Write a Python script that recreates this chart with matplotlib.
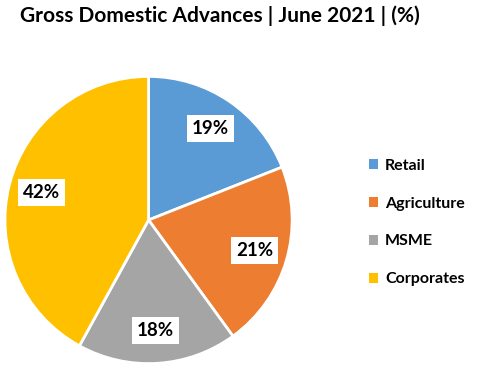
import matplotlib.pyplot as plt
from matplotlib.patches import Patch

categories = ["Retail", "Agriculture", "MSME", "Corporates"]
shares = [19, 21, 18, 42]
colors = ["#5B9BD5", "#ED7D31", "#A5A5A5", "#FFC000"]

plt.rcParams["font.family"] = ["Lato", "DejaVu Sans"]

fig = plt.figure(figsize=(4.78, 3.69), dpi=100)
fig.text(0.042, 0.957, "Gross Domestic Advances | June 2021 | (%)",
         fontsize=15, fontweight="bold", va="center", ha="left")

ax = fig.add_axes([0.0073, 0.0108, 0.607, 0.786])
wedges, texts, autotexts = ax.pie(
    shares, colors=colors, startangle=90, counterclock=False,
    autopct="%d%%", pctdistance=0.77,
    wedgeprops=dict(edgecolor="white", linewidth=2),
)
for t in autotexts:
    t.set_fontsize(13.5)
    t.set_fontweight("bold")
    t.set_color("black")
    t.set_bbox(dict(facecolor="white", edgecolor="none", pad=3.5))
ax.set_xlim(-1.01, 1.01)
ax.set_ylim(-1.01, 1.01)
ax.set_aspect("equal")

handles = [Patch(facecolor=c, edgecolor="none") for c in colors]
fig.legend(handles, categories, loc="center left", bbox_to_anchor=(0.772, 0.397),
           frameon=False, prop=dict(size=11.5, weight="bold"),
           borderpad=0, borderaxespad=0,
           handlelength=0.55, handleheight=0.55, handletextpad=0.45,
           labelspacing=1.5)

fig.savefig("out.png", dpi=100, facecolor="white")
